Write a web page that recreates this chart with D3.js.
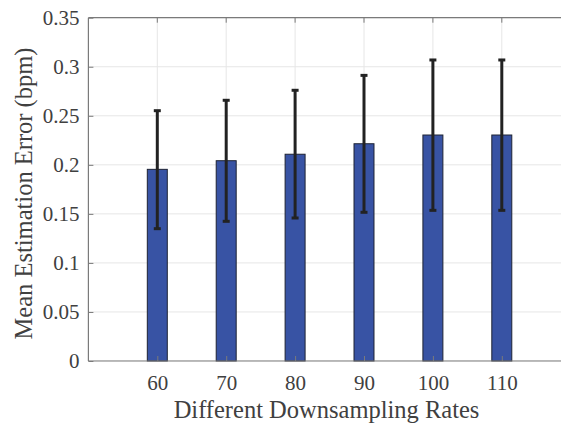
<!DOCTYPE html>
<html>
<head>
<meta charset="utf-8">
<script src="https://cdn.jsdelivr.net/npm/d3@7"></script>
<style>
  html, body { margin: 0; padding: 0; background: #fff; }
  svg { display: block; }
</style>
</head>
<body>
<svg id="chart" width="561" height="425"></svg>
<script>
// Downsampling rates and their mean estimation error with spread
const rates = [60, 70, 80, 90, 100, 110];
const meanError = [0.1954, 0.2042, 0.2108, 0.2215, 0.2304, 0.2304];
const errLow = [0.1349, 0.1424, 0.1458, 0.1516, 0.1536, 0.1536];
const errHigh = [0.2552, 0.2658, 0.2760, 0.2912, 0.3069, 0.3069];
const yTicks = [0, 0.05, 0.1, 0.15, 0.2, 0.25, 0.3, 0.35];
const xTicks = [60, 70, 80, 90, 100, 110];

const serif = "'Liberation Serif'";
const textColor = "#404040";

const svg = d3.select("#chart");
const margin = { left: 88.4, top: 17.7, right: 570.7, bottom: 361 };

const x = d3.scaleLinear().domain([50, 120]).range([margin.left, margin.right]);
const y = d3.scaleLinear().domain([0, 0.35]).range([margin.bottom, margin.top]);

const clip = svg.append("defs").append("clipPath").attr("id", "plot");
clip.append("rect").attr("x", margin.left).attr("y", margin.top)
  .attr("width", margin.right - margin.left).attr("height", margin.bottom - margin.top);

// grid
const grid = svg.append("g").attr("clip-path", "url(#plot)");
grid.selectAll("line.gy").data(yTicks).join("line")
  .attr("x1", margin.left).attr("x2", margin.right)
  .attr("y1", d => y(d)).attr("y2", d => y(d))
  .attr("stroke", "#e6e6e6").attr("stroke-width", 1);
grid.selectAll("line.gx").data(xTicks).join("line")
  .attr("y1", margin.top).attr("y2", margin.bottom)
  .attr("x1", d => x(d)).attr("x2", d => x(d))
  .attr("stroke", "#e6e6e6").attr("stroke-width", 1);

// bars
const barW = 0.29 * (x(70) - x(60));
svg.append("g").selectAll("rect").data(rates).join("rect")
  .attr("x", (d) => x(d) - barW / 2)
  .attr("width", barW)
  .attr("y", (d, i) => y(meanError[i]))
  .attr("height", (d, i) => y(0) - y(meanError[i]))
  .attr("fill", "#3853a4")
  .attr("stroke", "#1e2333")
  .attr("stroke-width", 1);

// error bars
const eb = svg.append("g").attr("stroke", "#222222").attr("stroke-width", 3);
const capW = 7;
rates.forEach((r, i) => {
  const cx = x(r);
  eb.append("line").attr("x1", cx).attr("x2", cx).attr("y1", y(errLow[i])).attr("y2", y(errHigh[i]));
  eb.append("line").attr("x1", cx - capW / 2).attr("x2", cx + capW / 2).attr("y1", y(errLow[i])).attr("y2", y(errLow[i]));
  eb.append("line").attr("x1", cx - capW / 2).attr("x2", cx + capW / 2).attr("y1", y(errHigh[i])).attr("y2", y(errHigh[i]));
});

// axes box
const axisColor = "#7a7a7a";
const box = svg.append("g").attr("stroke", axisColor).attr("stroke-width", 1.2).attr("fill", "none");
box.append("line").attr("x1", margin.left).attr("x2", margin.left).attr("y1", margin.top).attr("y2", margin.bottom);
box.append("line").attr("x1", margin.left).attr("x2", margin.right).attr("y1", margin.bottom).attr("y2", margin.bottom);
box.append("line").attr("x1", margin.left).attr("x2", margin.right).attr("y1", margin.top).attr("y2", margin.top);
box.append("line").attr("x1", margin.right).attr("x2", margin.right).attr("y1", margin.top).attr("y2", margin.bottom);

// y axis
const yAxis = d3.axisLeft(y).tickValues(yTicks).tickSizeInner(-5).tickSizeOuter(0).tickPadding(9)
  .tickFormat(d => d === 0 ? "0" : String(+d.toFixed(2)));
const gy = svg.append("g").attr("transform", `translate(${margin.left},0)`).call(yAxis)
  .attr("font-family", null).attr("font-size", null);
gy.select(".domain").remove();
gy.selectAll(".tick line").attr("stroke", axisColor);
gy.selectAll(".tick text").style("font-family", serif).style("font-size", "21px").style("fill", textColor);

// x axis
const xAxis = d3.axisBottom(x).tickValues(xTicks).tickSizeInner(-5).tickSizeOuter(0).tickPadding(14)
  .tickFormat(d3.format("d"));
const gx = svg.append("g").attr("transform", `translate(0,${margin.bottom})`).call(xAxis)
  .attr("font-family", null).attr("font-size", null);
gx.select(".domain").remove();
gx.selectAll(".tick line").attr("stroke", axisColor);
gx.selectAll(".tick text").style("font-family", serif).style("font-size", "21px").style("fill", textColor);

// top ticks
svg.append("g").selectAll("line").data(xTicks).join("line")
  .attr("x1", d => x(d)).attr("x2", d => x(d))
  .attr("y1", margin.top).attr("y2", margin.top + 5)
  .attr("stroke", axisColor);

// titles
svg.append("text")
  .attr("x", 326.5).attr("y", 417.5)
  .attr("text-anchor", "middle")
  .style("font-family", serif).style("font-size", "24.5px").style("fill", textColor)
  .text("Different Downsampling Rates");

svg.append("text")
  .attr("transform", `translate(31.5,193.5) rotate(-90)`)
  .attr("text-anchor", "middle")
  .style("font-family", serif).style("font-size", "24.5px").style("fill", textColor)
  .text("Mean Estimation Error (bpm)");
</script>
</body>
</html>
